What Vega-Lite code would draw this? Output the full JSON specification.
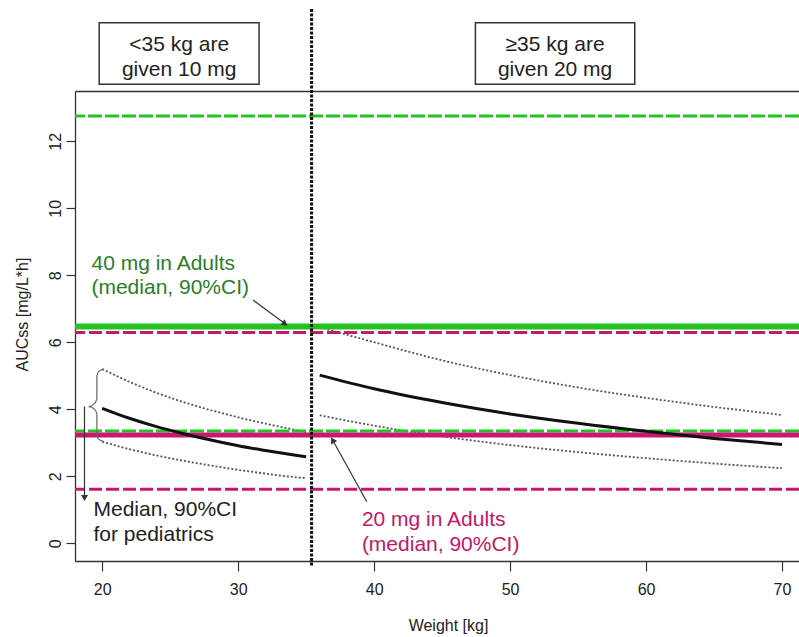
{
  "$schema": "https://vega.github.io/schema/vega-lite/v6.json",
  "width": 724,
  "height": 470,
  "autosize": {"type": "none"},
  "padding": {"left": 75, "top": 91, "right": 0, "bottom": 76},
  "background": "white",
  "config": {
    "view": {"stroke": null},
    "font": "Liberation Sans",
    "axis": {
      "grid": false,
      "domainColor": "#333333",
      "domainWidth": 1.3,
      "tickColor": "#333333",
      "tickWidth": 1.2,
      "labelColor": "#222222",
      "titleColor": "#222222",
      "labelFont": "Liberation Sans",
      "titleFont": "Liberation Sans",
      "labelFontSize": 16,
      "titleFontSize": 16,
      "titleFontWeight": "normal"
    }
  },
  "datasets": {
    "pk": [
      {"weight": 20, "dose": "10 mg", "median": 4.03, "p05": 3.03, "p95": 5.20},
      {"weight": 22, "dose": "10 mg", "median": 3.73, "p05": 2.81, "p95": 4.82},
      {"weight": 24, "dose": "10 mg", "median": 3.48, "p05": 2.62, "p95": 4.49},
      {"weight": 26, "dose": "10 mg", "median": 3.27, "p05": 2.46, "p95": 4.21},
      {"weight": 28, "dose": "10 mg", "median": 3.08, "p05": 2.32, "p95": 3.97},
      {"weight": 30, "dose": "10 mg", "median": 2.91, "p05": 2.19, "p95": 3.76},
      {"weight": 32, "dose": "10 mg", "median": 2.77, "p05": 2.08, "p95": 3.57},
      {"weight": 34, "dose": "10 mg", "median": 2.64, "p05": 1.98, "p95": 3.40},
      {"weight": 35, "dose": "10 mg", "median": 2.58, "p05": 1.94, "p95": 3.32},
      {"weight": 36, "dose": "20 mg", "median": 5.02, "p05": 3.82, "p95": 6.45},
      {"weight": 40, "dose": "20 mg", "median": 4.61, "p05": 3.51, "p95": 6.00},
      {"weight": 45, "dose": "20 mg", "median": 4.20, "p05": 3.19, "p95": 5.46},
      {"weight": 50, "dose": "20 mg", "median": 3.86, "p05": 2.93, "p95": 5.02},
      {"weight": 55, "dose": "20 mg", "median": 3.58, "p05": 2.72, "p95": 4.65},
      {"weight": 60, "dose": "20 mg", "median": 3.34, "p05": 2.54, "p95": 4.34},
      {"weight": 65, "dose": "20 mg", "median": 3.13, "p05": 2.38, "p95": 4.07},
      {"weight": 70, "dose": "20 mg", "median": 2.95, "p05": 2.24, "p95": 3.83}
    ],
    "adults": [
      {"dose": "40 mg", "stat": "p95", "auc": 12.75},
      {"dose": "40 mg", "stat": "median", "auc": 6.47},
      {"dose": "40 mg", "stat": "p05", "auc": 3.35},
      {"dose": "20 mg", "stat": "p95", "auc": 6.29},
      {"dose": "20 mg", "stat": "median", "auc": 3.23},
      {"dose": "20 mg", "stat": "p05", "auc": 1.61}
    ],
    "brace": [
      {"i": 1, "weight": 20.10, "auc": 5.19},
      {"i": 2, "weight": 19.74, "auc": 5.13},
      {"i": 3, "weight": 19.61, "auc": 4.99},
      {"i": 4, "weight": 19.61, "auc": 4.31},
      {"i": 5, "weight": 19.41, "auc": 4.16},
      {"i": 6, "weight": 19.00, "auc": 4.08},
      {"i": 7, "weight": 19.41, "auc": 4.01},
      {"i": 8, "weight": 19.61, "auc": 3.86},
      {"i": 9, "weight": 19.61, "auc": 3.23},
      {"i": 10, "weight": 19.74, "auc": 3.10},
      {"i": 11, "weight": 20.10, "auc": 3.04}
    ],
    "one": [{}]
  },
  "layer": [
    {
      "data": {"name": "pk"},
      "mark": {"type": "line", "color": "#555555", "strokeWidth": 1.8, "strokeDash": [2, 2], "interpolate": "monotone"},
      "encoding": {
        "x": {
          "field": "weight", "type": "quantitative", "title": "Weight [kg]",
          "scale": {"domain": [18, 71.25], "nice": false, "zero": false},
          "axis": {"orient": "bottom", "values": [20, 30, 40, 50, 60, 70], "tickSize": 10, "labelPadding": 10,
                   "titleX": 373, "titleY": 64, "titleBaseline": "middle", "titleAnchor": null}
        },
        "y": {
          "field": "p95", "type": "quantitative", "title": "AUCss [mg/L*h]",
          "scale": {"domain": [-0.53, 13.5], "nice": false, "zero": false},
          "axis": {"orient": "left", "values": [0, 2, 4, 6, 8, 10, 12], "tickSize": 9, "labelAngle": -90, "labelAlign": "center",
                   "labelBaseline": "bottom", "labelPadding": 3,
                   "titleX": -53, "titleY": 223, "titleAngle": -90, "titleAlign": "center", "titleBaseline": "middle"}
        },
        "detail": {"field": "dose"}
      }
    },
    {
      "data": {"name": "pk"},
      "mark": {"type": "line", "color": "#555555", "strokeWidth": 1.8, "strokeDash": [2, 2], "interpolate": "monotone"},
      "encoding": {
        "x": {"field": "weight", "type": "quantitative", "axis": null},
        "y": {"field": "p05", "type": "quantitative", "axis": null},
        "detail": {"field": "dose"}
      }
    },
    {
      "data": {"name": "adults"},
      "transform": [{"filter": "datum.dose === '40 mg' && datum.stat !== 'median'"}],
      "mark": {"type": "rule", "color": "#22c322", "strokeWidth": 3, "strokeDash": [14, 3]},
      "encoding": {"y": {"field": "auc", "type": "quantitative", "axis": null}}
    },
    {
      "data": {"name": "adults"},
      "transform": [{"filter": "datum.dose === '20 mg' && datum.stat !== 'median'"}],
      "mark": {"type": "rule", "color": "#c8176e", "strokeWidth": 3, "strokeDash": [13, 4]},
      "encoding": {"y": {"field": "auc", "type": "quantitative", "axis": null}}
    },
    {
      "data": {"name": "adults"},
      "transform": [{"filter": "datum.dose === '40 mg' && datum.stat === 'median'"}],
      "mark": {"type": "rule", "color": "#22c322", "strokeWidth": 6},
      "encoding": {"y": {"field": "auc", "type": "quantitative", "axis": null}}
    },
    {
      "data": {"name": "adults"},
      "transform": [{"filter": "datum.dose === '20 mg' && datum.stat === 'median'"}],
      "mark": {"type": "rule", "color": "#c8176e", "strokeWidth": 5},
      "encoding": {"y": {"field": "auc", "type": "quantitative", "axis": null}}
    },
    {
      "data": {"name": "pk"},
      "mark": {"type": "line", "color": "#111111", "strokeWidth": 3, "interpolate": "monotone"},
      "encoding": {
        "x": {"field": "weight", "type": "quantitative", "axis": null},
        "y": {"field": "median", "type": "quantitative", "axis": null},
        "detail": {"field": "dose"}
      }
    },
    {
      "data": {"name": "one"},
      "mark": {"type": "rule", "color": "#111111", "strokeWidth": 3, "strokeDash": [3, 1.5]},
      "encoding": {
        "x": {"datum": 35.4, "type": "quantitative",
              "axis": {"orient": "top", "labels": false, "ticks": false, "title": null, "domain": true}},
        "y": {"datum": 15.95, "type": "quantitative", "axis": null},
        "y2": {"datum": -0.71}
      }
    },
    {
      "data": {"name": "one"},
      "mark": {"type": "rect", "fill": "white", "stroke": "#333333", "strokeWidth": 1.5},
      "encoding": {
        "x": {"datum": 19.78, "type": "quantitative", "axis": null},
        "x2": {"datum": 31.54},
        "y": {"datum": 15.54, "type": "quantitative", "axis": null},
        "y2": {"datum": 13.70}
      }
    },
    {
      "data": {"name": "one"},
      "mark": {"type": "rect", "fill": "white", "stroke": "#333333", "strokeWidth": 1.5},
      "encoding": {
        "x": {"datum": 47.45, "type": "quantitative", "axis": null},
        "x2": {"datum": 59.17},
        "y": {"datum": 15.54, "type": "quantitative", "axis": null},
        "y2": {"datum": 13.70}
      }
    },
    {
      "data": {"name": "one"},
      "mark": {"type": "text", "text": ["<35 kg are", "given 10 mg"], "fontSize": 21, "lineHeight": 25,
               "align": "center", "baseline": "middle", "color": "#222222"},
      "encoding": {
        "x": {"datum": 25.66, "type": "quantitative", "axis": null},
        "y": {"datum": 14.87, "type": "quantitative", "axis": null}
      }
    },
    {
      "data": {"name": "one"},
      "mark": {"type": "text", "text": ["≥35 kg are", "given 20 mg"], "fontSize": 21, "lineHeight": 25,
               "align": "center", "baseline": "middle", "color": "#222222"},
      "encoding": {
        "x": {"datum": 53.31, "type": "quantitative", "axis": null},
        "y": {"datum": 14.87, "type": "quantitative", "axis": null}
      }
    },
    {
      "data": {"name": "one"},
      "mark": {"type": "text", "text": ["40 mg in Adults", "(median, 90%CI)"], "fontSize": 21, "lineHeight": 24.5,
               "align": "left", "baseline": "middle", "color": "#2b7d2b"},
      "encoding": {
        "x": {"datum": 19.21, "type": "quantitative", "axis": null},
        "y": {"datum": 8.34, "type": "quantitative", "axis": null}
      }
    },
    {
      "data": {"name": "one"},
      "mark": {"type": "text", "text": ["20 mg in Adults", "(median, 90%CI)"], "fontSize": 21, "lineHeight": 24.5,
               "align": "left", "baseline": "middle", "color": "#c0166b"},
      "encoding": {
        "x": {"datum": 39.1, "type": "quantitative", "axis": null},
        "y": {"datum": 0.68, "type": "quantitative", "axis": null}
      }
    },
    {
      "data": {"name": "one"},
      "mark": {"type": "text", "text": ["Median, 90%CI", "for pediatrics"], "fontSize": 21, "lineHeight": 25,
               "align": "left", "baseline": "middle", "color": "#222222"},
      "encoding": {
        "x": {"datum": 19.36, "type": "quantitative", "axis": null},
        "y": {"datum": 0.99, "type": "quantitative", "axis": null}
      }
    },
    {
      "data": {"name": "one"},
      "mark": {"type": "rule", "color": "#333333", "strokeWidth": 1.2},
      "encoding": {
        "x": {"datum": 31.1, "type": "quantitative", "axis": null},
        "y": {"datum": 7.26, "type": "quantitative", "axis": null},
        "x2": {"datum": 33.45},
        "y2": {"datum": 6.55}
      }
    },
    {
      "data": {"name": "one"},
      "mark": {"type": "point", "shape": "triangle-right", "filled": true, "color": "#333333", "size": 50, "angle": 37, "opacity": 1},
      "encoding": {
        "x": {"datum": 33.45, "type": "quantitative", "axis": null},
        "y": {"datum": 6.55, "type": "quantitative", "axis": null}
      }
    },
    {
      "data": {"name": "one"},
      "mark": {"type": "rule", "color": "#333333", "strokeWidth": 1.2},
      "encoding": {
        "x": {"datum": 39.46, "type": "quantitative", "axis": null},
        "y": {"datum": 1.24, "type": "quantitative", "axis": null},
        "x2": {"datum": 36.95},
        "y2": {"datum": 3.08}
      }
    },
    {
      "data": {"name": "one"},
      "mark": {"type": "point", "shape": "triangle-right", "filled": true, "color": "#333333", "size": 50, "angle": 241, "opacity": 1},
      "encoding": {
        "x": {"datum": 36.95, "type": "quantitative", "axis": null},
        "y": {"datum": 3.08, "type": "quantitative", "axis": null}
      }
    },
    {
      "data": {"name": "one"},
      "mark": {"type": "rule", "color": "#333333", "strokeWidth": 1.2},
      "encoding": {
        "x": {"datum": 18.7, "type": "quantitative", "axis": null},
        "y": {"datum": 4.08, "type": "quantitative", "axis": null},
        "y2": {"datum": 1.35}
      }
    },
    {
      "data": {"name": "one"},
      "mark": {"type": "point", "shape": "triangle-right", "filled": true, "color": "#333333", "size": 50, "angle": 90, "opacity": 1},
      "encoding": {
        "x": {"datum": 18.7, "type": "quantitative", "axis": null},
        "y": {"datum": 1.35, "type": "quantitative", "axis": null}
      }
    },
    {
      "data": {"name": "brace"},
      "mark": {"type": "line", "color": "#666666", "strokeWidth": 1.2, "interpolate": "monotone"},
      "encoding": {
        "x": {"field": "weight", "type": "quantitative", "axis": null},
        "y": {"field": "auc", "type": "quantitative", "axis": null},
        "order": {"field": "i"}
      }
    }
  ],
  "resolve": {"axis": {"x": "independent", "y": "independent"}}
}
